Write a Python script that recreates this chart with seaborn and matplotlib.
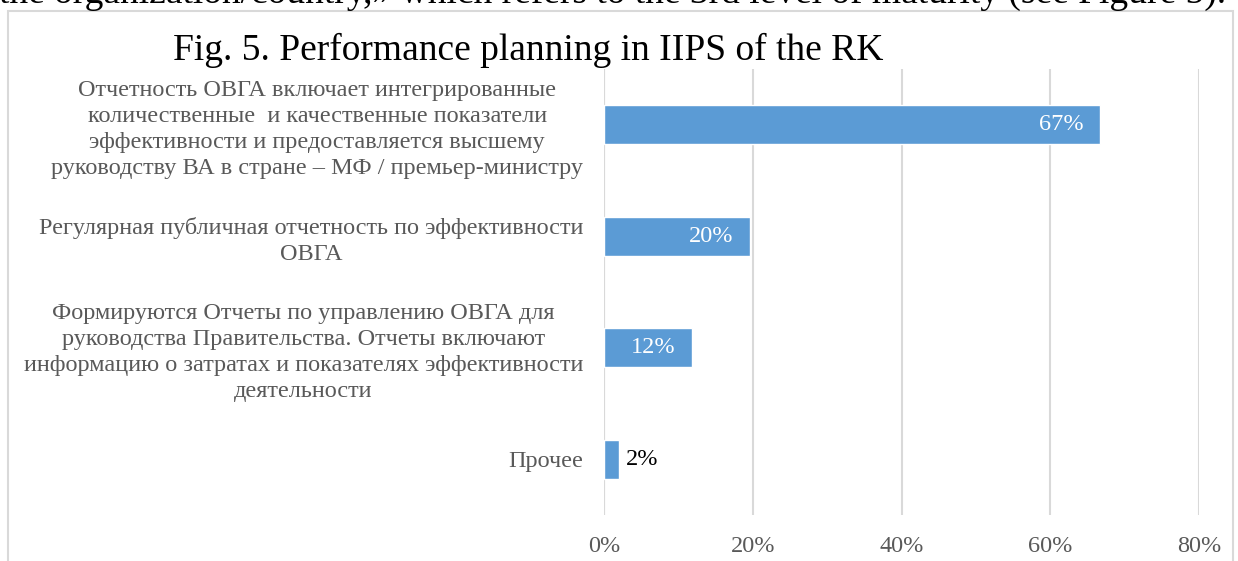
# plot.py
# Horizontal bar chart: Fig. 5. Performance planning in IIPS of the RK

import numpy as np
import pandas as pd
import matplotlib.pyplot as plt
from matplotlib.patches import Rectangle
import seaborn as sns

# Data
categories = [
    "Отчетность ОВГА включает интегрированные\nколичественные  и качественные показатели\n"
    "эффективности и предоставляется высшему\nруководству ВА в стране – МФ / премьер-министру",
    "Регулярная публичная отчетность по эффективности\nОВГА",
    "Формируются Отчеты по управлению ОВГА для\nруководства Правительства. Отчеты включают\n"
    "информацию о затратах и показателях эффективности\nдеятельности",
    "Прочее",
]
values = [66.7, 19.6, 11.8, 2.0]
value_labels = ["67%", "20%", "12%", "2%"]
x_ticks = [0, 20, 40, 60, 80]
x_tick_labels = ["0%", "20%", "40%", "60%", "80%"]

title = "Fig. 5. Performance planning in IIPS of the RK"
page_text = "the organization/country,» which refers to the 3rd level of maturity (see Figure 5)."

BAR_COLOR = "#5B9BD5"
GRID_COLOR = "#D9D9D9"
LABEL_COLOR = "#595959"


def main():
    sns.set_style("white")
    plt.rcParams["font.family"] = ["Liberation Serif", "DejaVu Serif"]

    df = pd.DataFrame({"category": categories, "value": values})

    W, H = 1238, 561
    fig = plt.figure(figsize=(W / 100, H / 100), dpi=100)
    ax = fig.add_axes([604 / W, 1 - 515 / H, (1199 - 604) / W, (515 - 69) / H])

    # chart frame (Word/Excel style)
    fig.patches.append(Rectangle((8 / W, -0.05), (1233 - 8) / W, 1.05 - 11 / H,
                                 transform=fig.transFigure, fill=False,
                                 edgecolor=GRID_COLOR, linewidth=1.5, zorder=0))

    # cut-off line of document text above the chart
    fig.text(-0.001, 1 - 3 / H, page_text, fontsize=27, color="black",
             ha="left", va="baseline")

    sns.barplot(data=df, x="value", y="category", color=BAR_COLOR, width=0.35,
                saturation=1, ax=ax, zorder=3)

    ax.set_xlim(0, 80)
    ax.set_ylim(3.5, -0.5)
    ax.set_xticks(x_ticks)
    ax.set_xticklabels(x_tick_labels)
    ax.xaxis.grid(True, color=GRID_COLOR, linewidth=1.5)
    ax.set_axisbelow(True)
    ax.axvline(0, color=GRID_COLOR, linewidth=1.5, zorder=2)
    for s in ax.spines.values():
        s.set_visible(False)
    ax.tick_params(axis="both", length=0, labelsize=17.5, labelcolor=LABEL_COLOR)
    ax.tick_params(axis="y", pad=15)
    ax.tick_params(axis="x", pad=15)
    for t in ax.get_yticklabels():
        t.set_multialignment("center")
        t.set_linespacing(1.32)
    ax.set_xlabel("")
    ax.set_ylabel("")

    # value labels
    for i, (v, lab) in enumerate(zip(values, value_labels)):
        if v > 5:
            ax.annotate(lab, (v, i), xytext=(-12, 0), textcoords="offset points",
                        ha="right", va="center", color="white", fontsize=17.5)
        else:
            ax.annotate(lab, (v, i), xytext=(5, 0), textcoords="offset points",
                        ha="left", va="center", color="black", fontsize=17.5)

    fig.text(528 / W, 1 - 50 / H, title, fontsize=27, color="black",
             ha="center", va="center")

    fig.savefig("out.png", dpi=100)


if __name__ == "__main__":
    main()
